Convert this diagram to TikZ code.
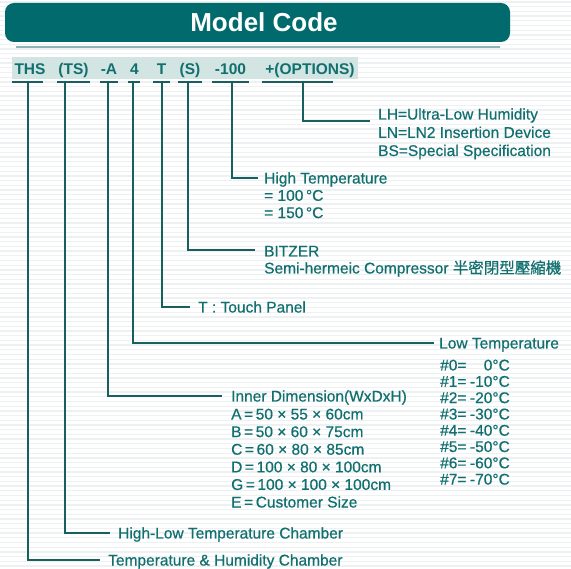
\documentclass[tikz,border=0pt]{standalone}
\usepackage{fontspec}
\setmainfont{Liberation Sans}
\newfontfamily\medfont[FakeBold=0.6]{Liberation Sans}
\newfontfamily\cjkfont[FakeBold=0.6]{Noto Sans CJK TC}
\definecolor{barteal}{HTML}{006A6C}
\definecolor{txtteal}{HTML}{11706F}
\definecolor{lineteal}{HTML}{17605F}
\definecolor{titleline}{HTML}{8DB3B3}
\definecolor{bandcol}{HTML}{D2E5E2}
\definecolor{stripecol}{HTML}{EEF1F1}
\begin{document}
\begin{tikzpicture}[x=1pt,y=-1pt,
  code/.style={anchor=base,inner sep=0pt,text=txtteal,font=\fontsize{15.5}{18}\selectfont\bfseries},
  desc/.style={anchor=base west,inner sep=0pt,text=txtteal,font=\medfont\fontsize{15.5}{18}\selectfont},
  descr/.style={anchor=base east,inner sep=0pt,text=txtteal,font=\medfont\fontsize{15.5}{18}\selectfont},
  uline/.style={draw=lineteal,line width=2.4pt},
  conn/.style={draw=lineteal,line width=2pt}]
\useasboundingbox (0,0) rectangle (571,569);
\fill[white] (0,0) rectangle (571,569);
\foreach \k in {0,...,121} {\draw[stripecol,line width=1.3pt] (0,{2+4.7*\k}) -- (571,{2+4.7*\k});}
% title
\fill[barteal,rounded corners=9pt] (5,3) rectangle (510,42);
\node[inner sep=0pt,text=white,font=\fontsize{26}{30}\selectfont\bfseries] (title) at (264,22.5) {Model Code};
\draw[titleline,line width=2pt] (16,47) -- (500,47);
% code band
\fill[bandcol] (12,57) rectangle (358,79);
\node[code] (c1) at (30,75) {THS};
\node[code] (c2) at (73.5,75) {(TS)};
\node[code] (c3) at (109,75) {-A};
\node[code] (c4) at (134.5,75) {4};
\node[code] (c5) at (161.5,75) {T};
\node[code] (c6) at (190,75) {(S)};
\node[code] (c7) at (230.5,75) {-100};
\node[code] (c8) at (310,75) {+(OPTIONS)};
% underlines
\draw[uline] (12,82) -- (43,82);
\draw[uline] (57,82) -- (90,82);
\draw[uline] (100,82) -- (118,82);
\draw[uline] (128,82) -- (140,82);
\draw[uline] (153,82) -- (170,82);
\draw[uline] (178,82) -- (202,82);
\draw[uline] (212,82) -- (249,82);
\draw[uline] (262,82) -- (333,82);
% stem tops and line ends
\coordinate (t1) at (28,82);   \coordinate (e1) at (100,560);
\coordinate (t2) at (65,82);   \coordinate (e2) at (110,533);
\coordinate (t3) at (108,82);  \coordinate (e3) at (222,396);
\coordinate (t4) at (133,82);  \coordinate (e4) at (434,343);
\coordinate (t5) at (162,82);  \coordinate (e5) at (190,307);
\coordinate (t6) at (188,82);  \coordinate (e6) at (255,250);
\coordinate (t7) at (232,82);  \coordinate (e7) at (258,178);
\coordinate (t8) at (303,82);  \coordinate (e8) at (370,121);
\foreach \i in {1,...,8} {\draw[conn] (t\i) |- (e\i);}
% options
\node[desc] (h8) at (378,119.5) {LH=Ultra-Low Humidity};
\node[desc] (h8b) at (378,137.8) {LN=LN2 Insertion Device};
\node[desc] (h8c) at (378,156) {BS=Special Specification};
% high temperature
\node[desc] (h7) at (264,183.5) {High Temperature};
\node[desc] (h7b) at (264,200.8) {= 100\,°C};
\node[desc] (h7c) at (264,218.1) {= 150\,°C};
% bitzer
\node[desc] (h6) at (264,256.5) {BITZER};
\node[desc] (h6b) at (264,273.5) {Semi-hermeic Compressor {\cjkfont 半密閉型壓縮機}};
% touch panel
\node[desc] (h5) at (198,312.5) {T : Touch Panel};
% low temperature
\node[desc] (h4) at (439,348.5) {Low Temperature};
\foreach \n/\v [count=\j from 0] in {0/0,1/-10,2/-20,3/-30,4/-40,5/-50,6/-60,7/-70} {
  \node[desc] (lk\n) at (440,{370.5+16.3*\j}) {\#\n=};
  \node[descr] (lv\n) at (510,{370.5+16.3*\j}) {\v°C};
}
% inner dimension
\node[desc] (h3) at (231,401.5) {Inner Dimension(WxDxH)};
\node[desc] (h3a) at (231,419.5) {A\,=\,50 × 55 × 60cm};
\node[desc] (h3b) at (231,437.1) {B\,=\,50 × 60 × 75cm};
\node[desc] (h3c) at (231,454.7) {C\,=\,60 × 80 × 85cm};
\node[desc] (h3d) at (231,472.3) {D\,=\,100 × 80 × 100cm};
\node[desc] (h3g) at (231,489.9) {G\,=\,100 × 100 × 100cm};
\node[desc] (h3e) at (231,507.5) {E\,=\,Customer Size};
% chambers
\node[desc] (h2) at (118,538.5) {High-Low Temperature Chamber};
\node[desc] (h1) at (108,565.5) {Temperature \& Humidity Chamber};
\end{tikzpicture}
\end{document}
